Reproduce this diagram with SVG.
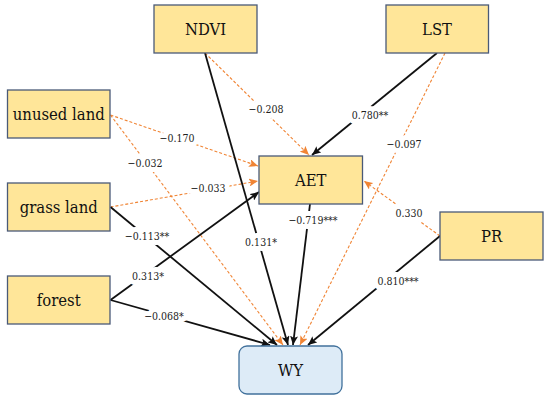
<svg xmlns="http://www.w3.org/2000/svg" width="550" height="403" viewBox="0 0 550 403">
<style>
.box{fill:#FFE699;stroke:#4A5A78;stroke-width:1.3}
.wy{fill:#DDEBF7;stroke:#41719C;stroke-width:1.3}
text{font-family:'DejaVu Serif Condensed','DejaVu Serif',serif;font-stretch:condensed;text-anchor:middle;dominant-baseline:central}
.nt{font-size:16.5px;fill:#111}
.lb{font-size:10.5px;fill:#222;stroke:#fff;stroke-width:10;stroke-linejoin:round;paint-order:stroke}
.k{stroke:#111;stroke-width:1.8;fill:none;marker-end:url(#ak)}
.o{stroke:#F08434;stroke-width:1.1;stroke-dasharray:3 2;fill:none;marker-end:url(#ao)}
</style>
<defs>
<marker id="ak" markerUnits="userSpaceOnUse" markerWidth="10" markerHeight="8" refX="9" refY="4" orient="auto"><path d="M0,0 L9,4 L0,8 L2,4 z" fill="#111"/></marker>
<marker id="ao" markerUnits="userSpaceOnUse" markerWidth="10" markerHeight="8" refX="9" refY="4" orient="auto"><path d="M0,0 L9,4 L0,8 L2,4 z" fill="#F08434"/></marker>
</defs>
<rect width="550" height="403" fill="#fff"/>
<g id="connectors">
<line class="o" x1="110.5" y1="115" x2="258" y2="166"/>
<line class="o" x1="110.5" y1="115" x2="283" y2="345"/>
<line class="o" x1="110.5" y1="207" x2="258" y2="181"/>
<line class="k" x1="110.5" y1="207" x2="277" y2="345"/>
<line class="k" x1="110.5" y1="300" x2="259" y2="192"/>
<line class="k" x1="110.5" y1="300" x2="270" y2="345"/>
<line class="o" x1="205" y1="53" x2="309" y2="155"/>
<line class="k" x1="205" y1="53" x2="288" y2="345"/>
<line class="k" x1="437" y1="53" x2="312" y2="155"/>
<line class="o" x1="445" y1="53" x2="300" y2="345"/>
<line class="k" x1="310" y1="204" x2="293" y2="345"/>
<line class="o" x1="440" y1="236" x2="364" y2="181"/>
<line class="k" x1="440" y1="236" x2="308" y2="345"/>
<text class="lb" x="177" y="138">−0.170</text>
<text class="lb" x="145" y="163">−0.032</text>
<text class="lb" x="208" y="188">−0.033</text>
<text class="lb" x="147" y="236">−0.113**</text>
<text class="lb" x="148" y="276">0.313*</text>
<text class="lb" x="164" y="316">−0.068*</text>
<text class="lb" x="266" y="109">−0.208</text>
<text class="lb" x="261" y="242">0.131*</text>
<text class="lb" x="370" y="115">0.780**</text>
<text class="lb" x="404" y="144">−0.097</text>
<text class="lb" x="313" y="220">−0.719***</text>
<text class="lb" x="409" y="213">0.330</text>
<text class="lb" x="398" y="281">0.810***</text>
</g>
<g id="NDVI"><rect class="box" x="154" y="5" width="103" height="48"/><text class="nt" x="205.5" y="29">NDVI</text></g>
<g id="LST"><rect class="box" x="386" y="5" width="102.5" height="48"/><text class="nt" x="437" y="29">LST</text></g>
<g id="unused_land"><rect class="box" x="7.5" y="90" width="102.5" height="48"/><text class="nt" x="58.75" y="114">unused land</text></g>
<g id="grass_land"><rect class="box" x="7.5" y="183" width="102.5" height="48"/><text class="nt" x="58.75" y="207">grass land</text></g>
<g id="forest"><rect class="box" x="7.5" y="276" width="102.5" height="48"/><text class="nt" x="58.75" y="300">forest</text></g>
<g id="AET"><rect class="box" x="259" y="156" width="103.5" height="48"/><text class="nt" x="310.75" y="180">AET</text></g>
<g id="PR"><rect class="box" x="440" y="212" width="103" height="48"/><text class="nt" x="491.5" y="236">PR</text></g>
<g id="WY"><rect class="wy" x="239" y="346" width="103" height="48" rx="8"/><text class="nt" x="290.5" y="370">WY</text></g>
</svg>
